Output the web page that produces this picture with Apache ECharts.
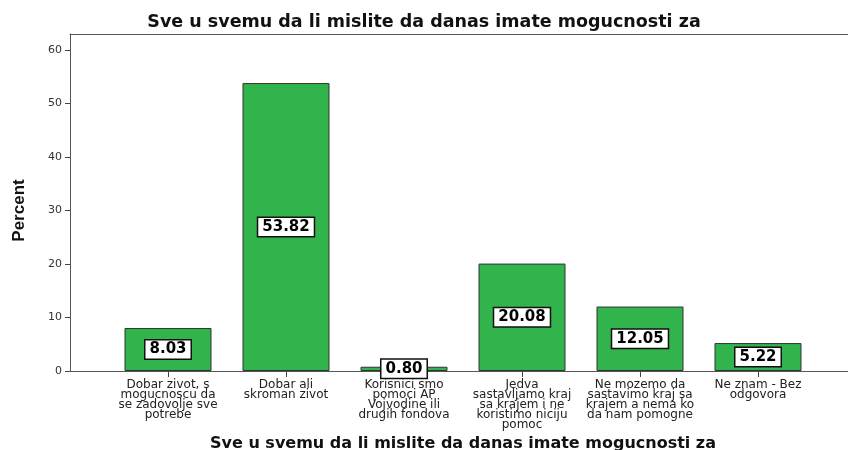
<!DOCTYPE html>
<html>
<head>
<meta charset="utf-8">
<script src="https://cdn.jsdelivr.net/npm/echarts@6/dist/echarts.min.js"></script>
<style>html,body{margin:0;padding:0;background:#fff}#c{width:848px;height:450px}</style>
</head>
<body>
<div id="c"></div>
<script>
const chartTitle = 'Sve u svemu da li mislite da danas imate mogucnosti za';
const categories = [
  'Dobar zivot, s\nmogucnoscu da\nse zadovolje sve\npotrebe',
  'Dobar ali\nskroman zivot',
  'Korisnici smo\npomoci AP\nVojvodine ili\ndrugih fondova',
  'Jedva\nsastavljamo kraj\nsa krajem i ne\nkoristimo niciju\npomoc',
  'Ne mozemo da\nsastavimo kraj sa\nkrajem a nema ko\nda nam pomogne',
  'Ne znam - Bez\nodgovora'
];
const percents = [8.03, 53.82, 0.80, 20.08, 12.05, 5.22];
const yAxisName = 'Percent';

const frameLine = {show: true, lineStyle: {color: '#555', width: 1}};
const chart = echarts.init(document.getElementById('c'), null, {renderer: 'canvas'});
chart.setOption({
  animation: false,
  backgroundColor: '#fff',
  title: {
    text: chartTitle, left: 'center', top: 8,
    textStyle: {fontFamily: 'DejaVu Sans', fontWeight: 'bold', fontSize: 17.5, color: '#111'}
  },
  grid: [
    {left: 70, top: 34, right: 0, bottom: 79, outerBoundsMode: 'none', containLabel: false},
    {left: 109, top: 50, right: 31, bottom: 79, outerBoundsMode: 'none', containLabel: false}
  ],
  xAxis: [
    {gridIndex: 0, type: 'value', position: 'bottom', axisLine: frameLine, axisTick: {show: false}, axisLabel: {show: false}, splitLine: {show: false}},
    {
      gridIndex: 1, type: 'category', data: categories,
      axisLine: {show: false},
      axisTick: {show: true, alignWithLabel: true, length: 6, lineStyle: {color: '#444', width: 1}},
      axisLabel: {interval: 0, margin: 9, fontFamily: 'DejaVu Sans', fontSize: 12, lineHeight: 10, color: '#222', align: 'center'},
      name: chartTitle, nameLocation: 'middle', nameGap: 63,
      nameTextStyle: {fontFamily: 'DejaVu Sans', fontWeight: 'bold', fontSize: 16, color: '#111'}
    },
    {gridIndex: 0, type: 'value', position: 'top', axisLine: frameLine, axisTick: {show: false}, axisLabel: {show: false}, splitLine: {show: false}}
  ],
  yAxis: [
    {gridIndex: 0, type: 'value', position: 'left', axisLine: frameLine, axisTick: {show: false}, axisLabel: {show: false}, splitLine: {show: false}},
    {
      gridIndex: 1, type: 'value', min: 0, max: 60, interval: 10, offset: 39,
      axisLine: {show: false},
      axisTick: {show: true, length: 5, lineStyle: {color: '#444'}},
      splitLine: {show: false},
      axisLabel: {margin: 8, fontFamily: 'DejaVu Sans', fontSize: 11, color: '#333'},
      name: yAxisName, nameLocation: 'middle', nameGap: 42, nameRotate: 90,
      nameTextStyle: {fontFamily: 'Liberation Sans Narrow, Liberation Sans', fontWeight: 'bold', fontSize: 17, color: '#111'}
    }
  ],
  series: [{
    type: 'bar', xAxisIndex: 1, yAxisIndex: 1, data: percents, barWidth: 87,
    itemStyle: {color: '#31b44b', borderColor: '#333', borderWidth: 1},
    label: {
      show: true, position: 'inside',
      formatter: p => p.value.toFixed(2),
      fontFamily: 'DejaVu Sans', fontWeight: 'bold', fontSize: 15, color: '#000',
      backgroundColor: '#fff', borderColor: '#111', borderWidth: 1.5, padding: [2, 4, 1, 4]
    }
  }]
});
</script>
</body>
</html>
